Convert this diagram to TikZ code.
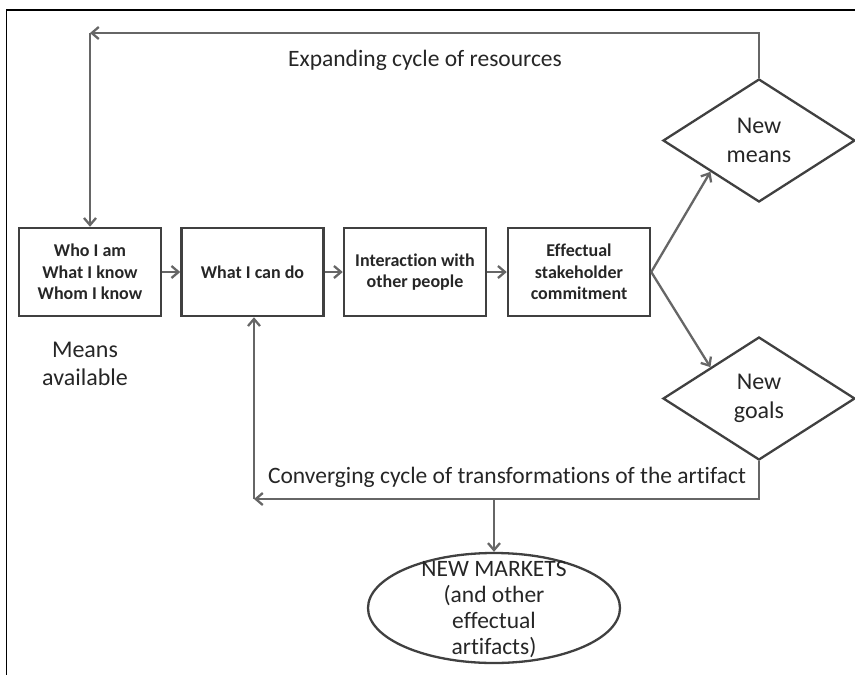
\documentclass[tikz,border=0pt]{standalone}
\usepackage{fontspec}
\setmainfont{Carlito}[Ligatures=CommonOff]
\usetikzlibrary{shapes.geometric,arrows.meta}
\definecolor{linegray}{HTML}{666666}
\definecolor{boxgray}{HTML}{404040}
\tikzstyle{stage}=[rectangle, draw=boxgray, line width=2.5pt, minimum width=142pt, minimum height=88pt, inner sep=0pt, align=center, font=\fontsize{18}{21.5}\selectfont\bfseries, text=black!85]
\tikzstyle{outcome}=[diamond, draw=boxgray, line width=2.3pt, minimum width=192pt, minimum height=123pt, inner sep=0pt, aspect=1.56, align=center, font=\fontsize{24}{29}\selectfont, text=black!85]
\tikzstyle{flow}=[draw=linegray, line width=2.3pt, -{Straight Barb[length=7pt,width=12pt]}]
\tikzstyle{caption}=[align=center, font=\fontsize{23.5}{28}\selectfont, text=black!85]

\begin{document}
\begin{tikzpicture}[x=1pt, y=-1pt]
    \useasboundingbox (0,0) rectangle (855,675);
    \draw[black, line width=1.5pt] (6.5,675) -- (6.5,10) -- (855,10);
    \node[stage] (whoami) at (90,272) {Who I am\\What I know\\Whom I know};
    \node[stage] (cando) at (252.5,272) {What I can do};
    \node[stage] (interact) at (415,272) {Interaction with\\other people};
    \node[stage] (commit) at (579,272) {Effectual\\stakeholder\\commitment};
    \node[outcome] (newmeans) at (759,140.5) {New\\means};
    \node[outcome] (newgoals) at (759,398.5) {New\\goals};
    \node[ellipse, draw=boxgray, line width=2.3pt, minimum width=252pt, minimum height=110pt] (markets) at (494,608) {};
    \node[caption, font=\fontsize{23.5}{26}\selectfont] (marketstext) at (494,609) {NEW MARKETS\\(and other\\effectual\\artifacts)};
    \node[caption, font=\fontsize{24}{28}\selectfont] (means) at (85,364) {Means\\available};
    \node[caption] (expanding) at (425,60) {Expanding cycle of resources};
    \node[caption] (converging) at (507,477) {Converging cycle of transformations of the artifact};
    \coordinate (topcorner) at (90,33);
    \coordinate (botcorner) at (254,499);
    \coordinate (split) at (494,499);
    \draw[flow] (whoami) -- (cando);
    \draw[flow] (cando) -- (interact);
    \draw[flow] (interact) -- (commit);
    \draw[flow] (commit.east) -- (newmeans.south west);
    \draw[flow] (commit.east) -- (newgoals.north west);
    \draw[flow] (newmeans.north) |- (topcorner);
    \draw[flow] (topcorner) -- (whoami.north);
    \draw[flow] (newgoals.south) |- (botcorner);
    \draw[flow] (botcorner) -- (cando.south -| botcorner);
    \draw[flow] (split) -- (markets.north);
\end{tikzpicture}
\end{document}
